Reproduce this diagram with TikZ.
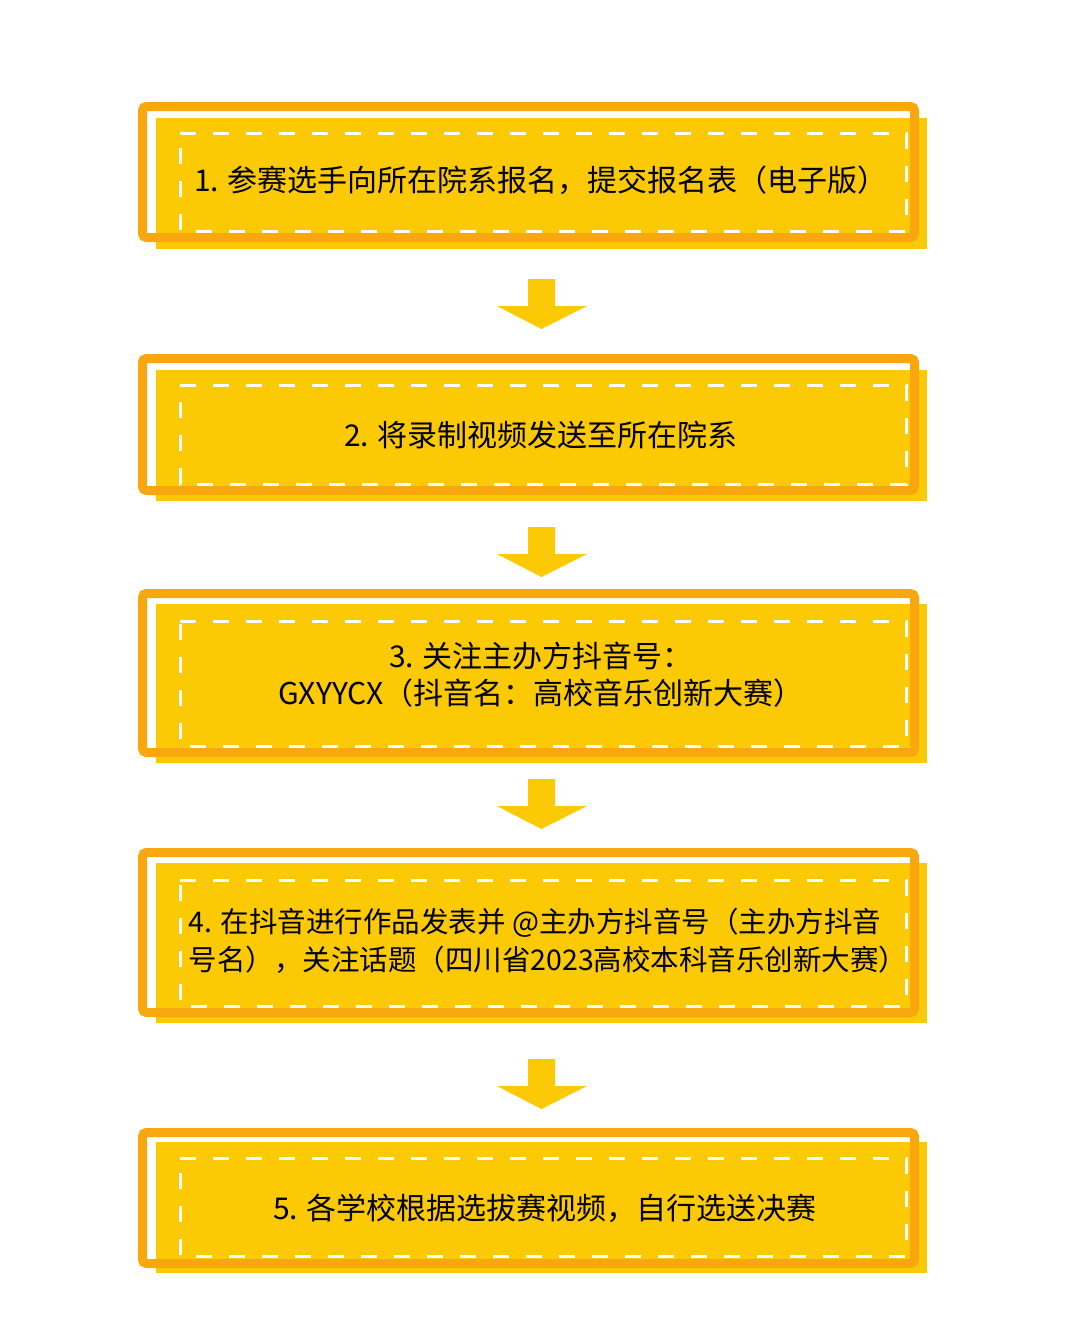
\documentclass[tikz,border=0pt]{standalone}
\usepackage{fontspec}
\setmainfont{Noto Sans CJK SC}
\definecolor{boxorange}{HTML}{F9A70F}
\definecolor{boxyellow}{HTML}{FCCA05}
\tikzset{
  fillbox/.style={fill=boxyellow, draw=none, anchor=north west, inner sep=0pt, minimum width=771pt},
  outlinebox/.style={draw=boxorange, line width=9pt, rounded corners=4pt},
  dashbox/.style={draw=white, line width=3pt, dash pattern=on 16pt off 17pt},
  steptext/.style={font=\fontsize{30}{37}\selectfont, text=black, align=center, inner sep=0pt},
  blockarrow/.style={fill=boxyellow, draw=none}
}
\begin{document}
\begin{tikzpicture}[x=1pt,y=-1pt]
\useasboundingbox[fill=white] (0,0) rectangle (1070,1344);
% box 1
\node[fillbox, minimum height=131pt] (y1) at (156,118) {};
\draw[outlinebox] (142.5,106.5) rectangle (914.5,237.5);
\draw[dashbox] (180,133) -- (906,133) -- (906,231) -- (180,231) -- cycle;
\node[steptext] (t1) at (541,180) {1. 参赛选手向所在院系报名，提交报名表（电子版）};
% box 2
\node[fillbox, minimum height=131pt] (y2) at (156,370) {};
\draw[outlinebox] (142.5,358.5) rectangle (914.5,490.5);
\draw[dashbox] (180,385) -- (906,385) -- (906,484) -- (180,484) -- cycle;
\node[steptext] (t2) at (541,435) {2. 将录制视频发送至所在院系};
% box 3
\node[fillbox, minimum height=159pt] (y3) at (156,604) {};
\draw[outlinebox] (142.5,593.5) rectangle (914.5,752.5);
\draw[dashbox] (180,621) -- (906,621) -- (906,746) -- (180,746) -- cycle;
\node[steptext] (t3) at (541,675) {3. 关注主办方抖音号：\\GXYYCX（抖音名：高校音乐创新大赛）};
% box 4
\node[fillbox, minimum height=160pt] (y4) at (156,863) {};
\draw[outlinebox] (142.5,852.5) rectangle (914.5,1012.5);
\draw[dashbox] (180,880) -- (906,880) -- (906,1006) -- (180,1006) -- cycle;
\node[steptext, align=left, font=\fontsize{28.5}{37.5}\selectfont] (t4) at (548,941) {4. 在抖音进行作品发表并 @主办方抖音号（主办方抖音\\号名），关注话题（四川省2023高校本科音乐创新大赛）};
% box 5
\node[fillbox, minimum height=131pt] (y5) at (156,1142) {};
\draw[outlinebox] (142.5,1132.5) rectangle (914.5,1263.5);
\draw[dashbox] (180,1158) -- (906,1158) -- (906,1256) -- (180,1256) -- cycle;
\node[steptext] (t5) at (545,1208) {5. 各学校根据选拔赛视频，自行选送决赛};
% arrows
\foreach \top in {279,527,779,1059}{
  \fill[blockarrow] (528,\top) -- (555,\top) -- (555,\top+27) -- (587,\top+27)
    -- (541.5,\top+50) -- (497,\top+27) -- (528,\top+27) -- cycle;
}
\end{tikzpicture}
\end{document}
